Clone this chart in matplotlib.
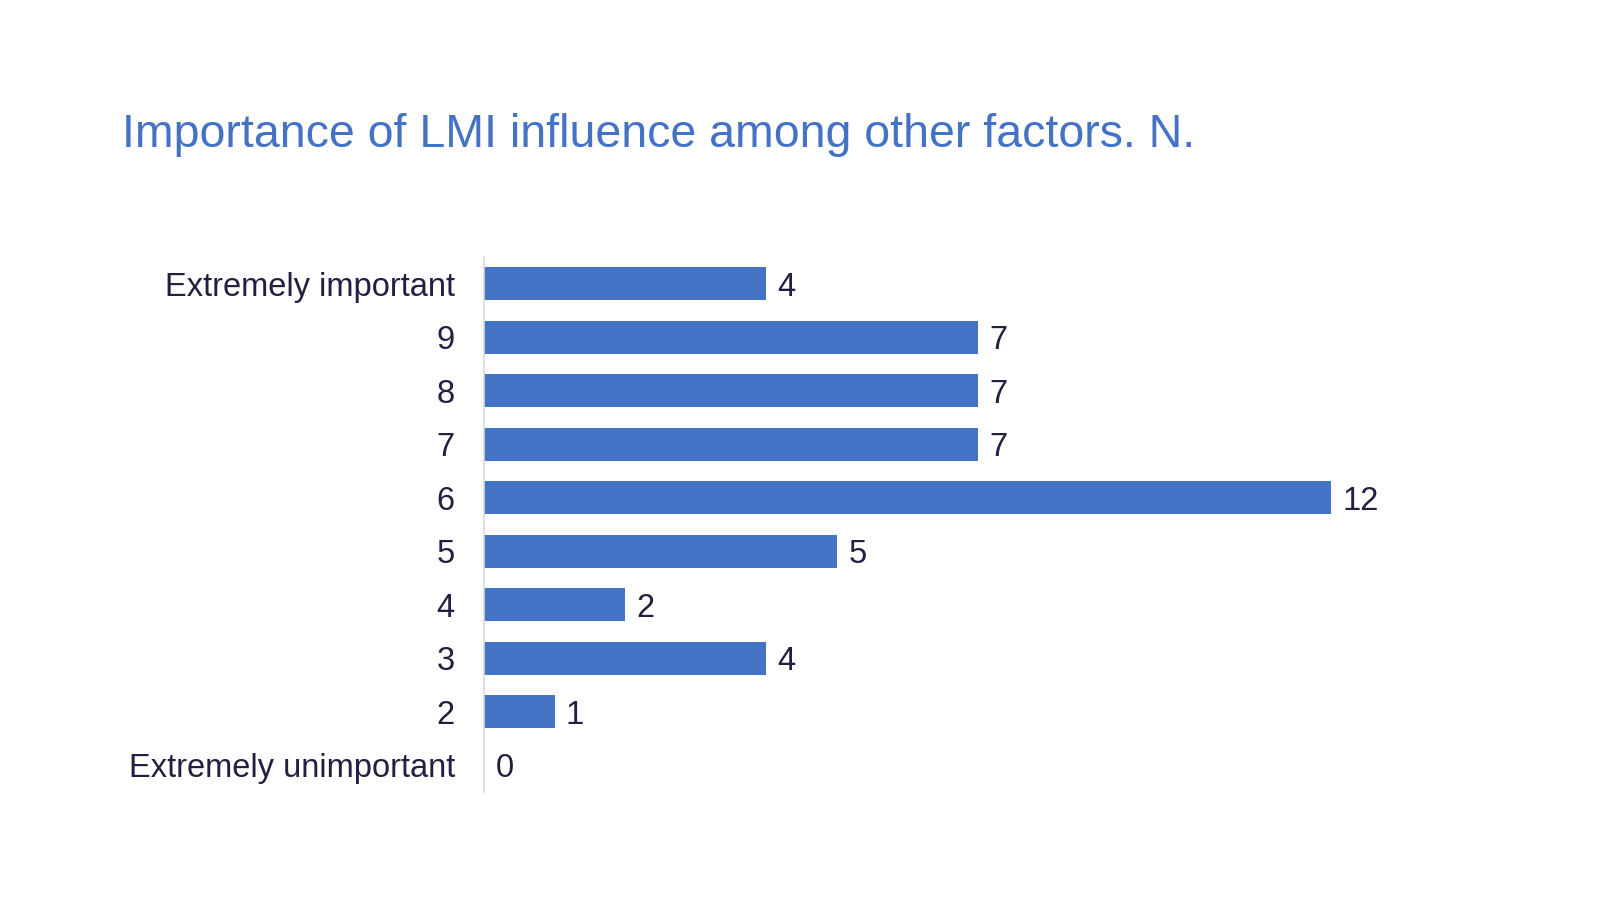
import matplotlib.pyplot as plt
from matplotlib import rc

rc('font', family=['Liberation Sans', 'DejaVu Sans'])

categories = ['Extremely important', '9', '8', '7', '6', '5', '4', '3', '2', 'Extremely unimportant']
counts = [4, 7, 7, 7, 12, 5, 2, 4, 1, 0]

barColor = '#4472C4'
textColor = '#231F40'

fig = plt.figure(figsize=(16, 9), dpi=100)
ax = fig.add_axes([0.3025, 0.12, 0.6125, 0.5944])

ypos = list(range(len(categories)))
ax.barh(ypos, counts, height=0.62, color=barColor)
for y, v in zip(ypos, counts):
    ax.text(v + 0.16, y, str(v), va='center_baseline', ha='left', fontsize=23.5, color=textColor)

ax.set_yticks(ypos)
ax.set_yticklabels(categories, fontsize=23.5, color=textColor)
ax.set_ylim(len(categories) - 0.5, -0.5)
ax.set_xlim(0, 13.88)
ax.set_xticks([])
ax.tick_params(axis='y', length=0, pad=21)
for lab in ax.get_yticklabels():
    lab.set_verticalalignment('center_baseline')
for side in ['top', 'right', 'bottom']:
    ax.spines[side].set_visible(False)
ax.spines['left'].set_color('#D9D9D9')
ax.spines['left'].set_linewidth(1.2)

fig.text(0.076, 0.85, 'Importance of LMI influence among other factors. N.',
         fontsize=33.5, color='#4472C4', ha='left', va='center')

plt.savefig('out.png', dpi=100)
plt.close()
